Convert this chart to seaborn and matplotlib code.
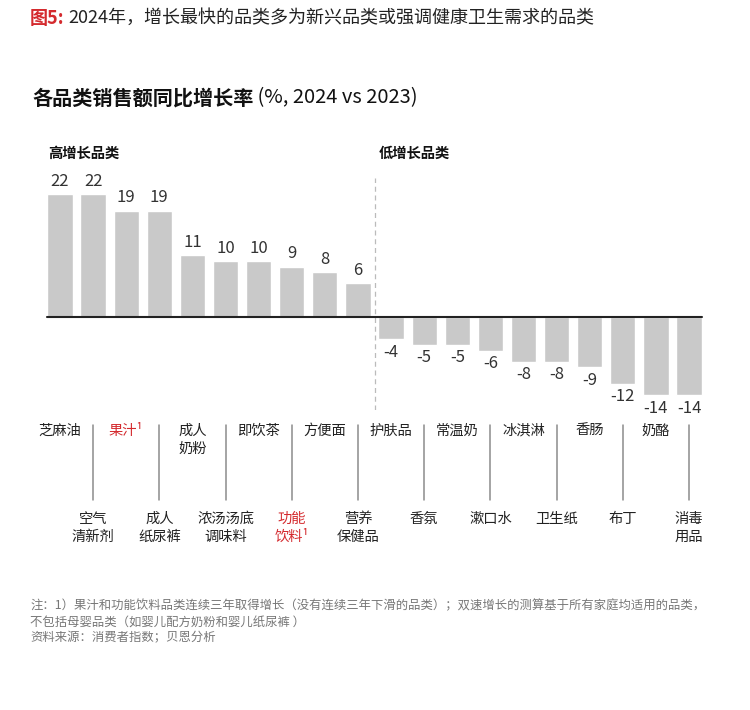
#! /usr/bin/python3
# -*- coding:utf-8 -*-
"""
sns - 各品类销售额同比增长率 条形图 (高增长 / 低增长品类)。
"""
import pandas as pd
import seaborn as sns
import matplotlib.pyplot as plt
import matplotlib.transforms as mtransforms

categories = ['芝麻油', '空气\n清新剂', '果汁¹', '成人\n纸尿裤', '成人\n奶粉',
              '浓汤汤底\n调味料', '即饮茶', '功能\n饮料¹', '方便面', '营养\n保健品',
              '护肤品', '香氛', '常温奶', '漱口水', '冰淇淋',
              '卫生纸', '香肠', '布丁', '奶酪', '消毒\n用品']
growth = [22, 22, 19, 19, 11, 10, 10, 9, 8, 6,
          -4, -5, -5, -6, -8, -8, -9, -12, -14, -14]
highlight = ['果汁¹', '功能\n饮料¹']

df = pd.DataFrame({'category': categories, 'growth': growth})

sns.set_style('white')
plt.rcParams['font.family'] = ['Noto Sans CJK SC', 'DejaVu Sans']

RED = '#d42a2e'
GREY_BAR = '#c9c9c9'
W, H = 750, 710

fig = plt.figure(figsize=(7.5, 7.1), dpi=100)
# 坐标区: 像素 x 43-706, y 170-410
ax = fig.add_axes([43.4 / W, 1 - 410 / H, 662.2 / W, 240 / H])

sns.barplot(data=df, x='category', y='growth', color=GREY_BAR, width=0.76,
            saturation=1, ax=ax)

ax.set_xlim(-0.5, len(categories) - 0.5)
ax.set_ylim(-16.6, 26.25)
ax.axis('off')
ax.axhline(0, xmin=0.005, xmax=0.995, color='#222222', lw=1.5, zorder=3)
ax.axvline(9.5, ymin=0, ymax=0.967, color='#bbbbbb', lw=0.9,
           linestyle=(0, (4, 3)), zorder=0)

ax.bar_label(ax.containers[0], fmt='%d', padding=3, fontsize=12, color='#333333')

# 类别标签: 交替两行
trans = mtransforms.blended_transform_factory(ax.transData, fig.transFigure)
for i, name in enumerate(categories):
    color = RED if name in highlight else '#222222'
    if i % 2 == 0:
        y = 1 - 424 / H
    else:
        y = 1 - 512 / H
        ax.plot([i, i], [1 - 425 / H, 1 - 500 / H], transform=trans,
                color='#8c8c8c', lw=1.1, clip_on=False)
    ax.text(i, y, name, transform=trans, ha='center', va='top',
            fontsize=10.3, color=color, linespacing=1.35)

# 标题
t1 = fig.text(30 / W, 1 - 18 / H, '图5:', fontsize=13, fontweight='bold',
              color=RED, va='center')
ax.annotate('2024年，增长最快的品类多为新兴品类或强调健康卫生需求的品类',
            xy=(1, 0.5), xycoords=t1, xytext=(3, 0), textcoords='offset points',
            va='center', fontsize=13, color='#222222', annotation_clip=False)

t2 = fig.text(32 / W, 1 - 98 / H, '各品类销售额同比增长率', fontsize=14.5,
              fontweight='bold', color='#111111', va='center')
ax.annotate(' (%, 2024 vs 2023)', xy=(1, 0.5), xycoords=t2, xytext=(0, 0),
            textcoords='offset points', va='center', fontsize=14.5,
            color='#111111', annotation_clip=False)

fig.text(48 / W, 1 - 154 / H, '高增长品类', fontsize=10.3, fontweight='bold',
         color='#111111', va='center')
fig.text(379 / W, 1 - 154 / H, '低增长品类', fontsize=10.3, fontweight='bold',
         color='#111111', va='center')

# 注释
notes = ['注：1）果汁和功能饮料品类连续三年取得增长（没有连续三年下滑的品类）；双速增长的测算基于所有家庭均适用的品类，',
         '不包括母婴品类（如婴儿配方奶粉和婴儿纸尿裤 ）',
         '资料来源：消费者指数；贝恩分析']
for k, line in enumerate(notes):
    fig.text(30 / W, 1 - (606 + 16 * k) / H, line, fontsize=8.9,
             color='#777777', va='center')

fig.savefig('out.png', dpi=100)
